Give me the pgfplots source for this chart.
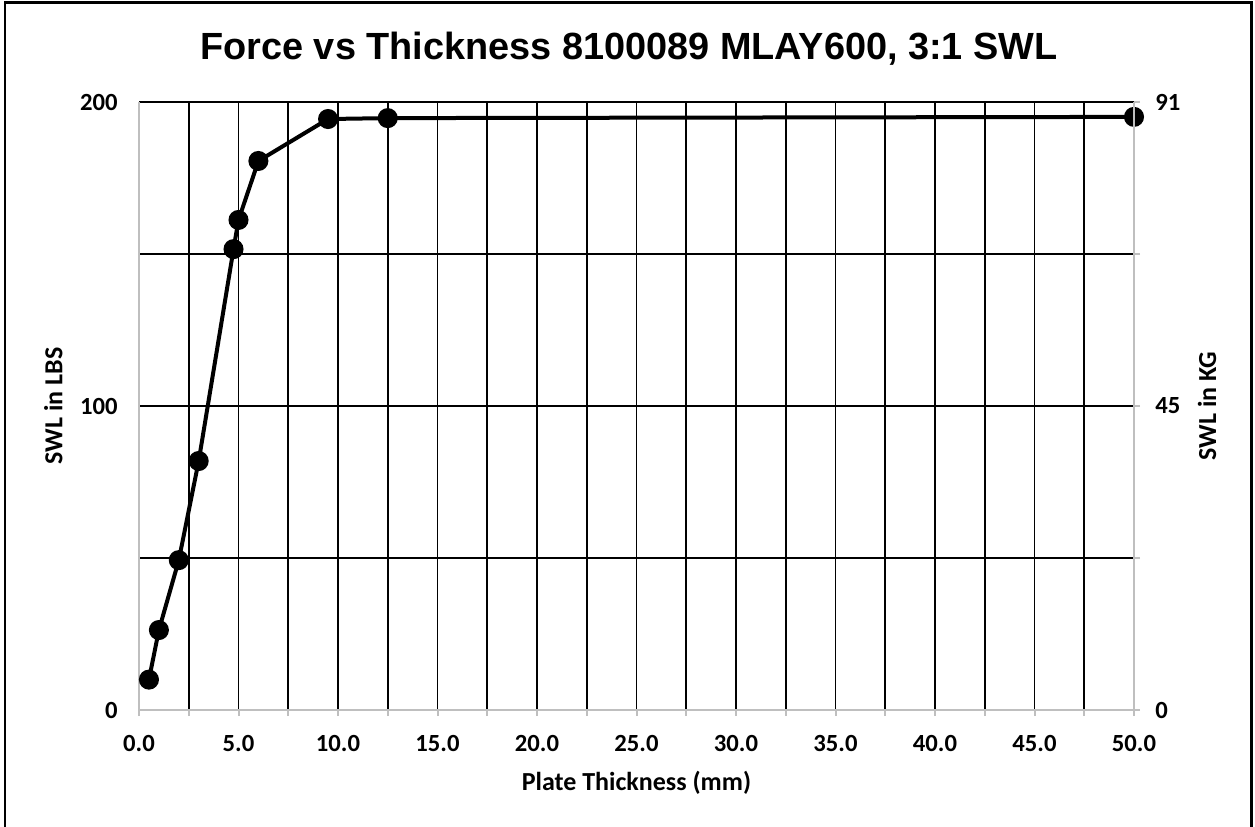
\documentclass[border=0pt]{standalone}
\usepackage{pgfplots}
\pgfplotsset{compat=1.18}
\usepackage{fontspec}
\setmainfont{Carlito}
\newfontfamily\titlefont{Liberation Sans}
\definecolor{axgray}{RGB}{191,191,191}

\begin{document}
\begin{tikzpicture}
% page = 1255 x 826 px, 1 px = 0.75 pt
\useasboundingbox (0pt,0pt) rectangle (941.25pt,619.5pt);
\draw[line width=1.6pt] (3.75pt,-4pt) -- (3.75pt,617.6pt) -- (938.6pt,617.6pt) -- (938.6pt,-4pt);

\begin{axis}[
  at={(104.25pt,87pt)}, anchor=south west,
  scale only axis,
  width=746.25pt, height=456pt,
  xmin=0, xmax=50, ymin=0, ymax=200,
  clip=false,
  axis x line=bottom, axis y line=left,
  axis line style={axgray, line width=1.5pt, -},
  xtick={5,10,...,45},
  minor xtick={2.5,7.5,...,47.5},
  extra x ticks={0,50},
  extra x tick style={grid=none},
  ytick={50,100,150,200},
  yticklabels={,100,,200},
  extra y ticks={0},
  extra y tick labels={0},
  extra y tick style={grid=none},
  grid=both,
  major grid style={black, line width=1.3pt},
  minor grid style={black, line width=1.3pt},
  tick align=outside,
  x tick style={axgray, line width=1.5pt},
  major tick length=4.5pt, minor tick length=4.5pt,
  y tick style={draw=none},
  /pgf/number format/assume math mode=true,
  xticklabel={\pgfmathprintnumber[fixed,fixed zerofill,precision=1]{\tick}},
  tick label style={font=\fontsize{18.5}{21}\selectfont\bfseries},
  xticklabel style={yshift=-11pt},
  yticklabel style={xshift=-8pt},
  xlabel={Plate Thickness (mm)},
  xlabel style={at={(axis description cs:0.5,-0.119)}, anchor=center, font=\fontsize{19.5}{22}\selectfont\bfseries},
  ylabel={SWL in LBS},
  ylabel style={at={(axis description cs:-0.086,0.5)}, anchor=center, font=\fontsize{19.5}{22}\selectfont\bfseries},
  title={Force vs Thickness 8100089 MLAY600, 3:1 SWL},
  title style={at={(axis description cs:0.4925,1.0855)}, anchor=center, yshift=-5pt, font=\titlefont\fontsize{28.4}{32}\selectfont\bfseries},
]
\addplot[black, line width=3pt, mark=*, mark size=6pt, mark options={solid, fill=black}]
coordinates {
  (0.5,10) (1,26.3) (2,49.3) (3,81.9) (4.75,151.6) (5,161.2)
  (6,180.6) (9.5,194.4) (12.5,194.7) (50,195.1)
};
\end{axis}

\begin{axis}[
  at={(104.25pt,87pt)}, anchor=south west,
  scale only axis,
  width=746.25pt, height=456pt,
  xmin=0, xmax=50, ymin=0, ymax=200,
  axis x line=none, axis y line=right,
  axis line style={axgray, line width=1.5pt, -},
  ytick={0,50,100,150,200},
  yticklabels={0,,45,,91},
  tick align=outside,
  y tick style={axgray, line width=1.5pt},
  major tick length=4.5pt,
  tick label style={font=\fontsize{18.5}{21}\selectfont\bfseries},
  yticklabel style={xshift=8pt},
  ylabel={SWL in KG},
  ylabel style={at={(axis description cs:1.0734,0.5)}, anchor=center, font=\fontsize{19.5}{22}\selectfont\bfseries},
]
\end{axis}
\end{tikzpicture}
\end{document}
